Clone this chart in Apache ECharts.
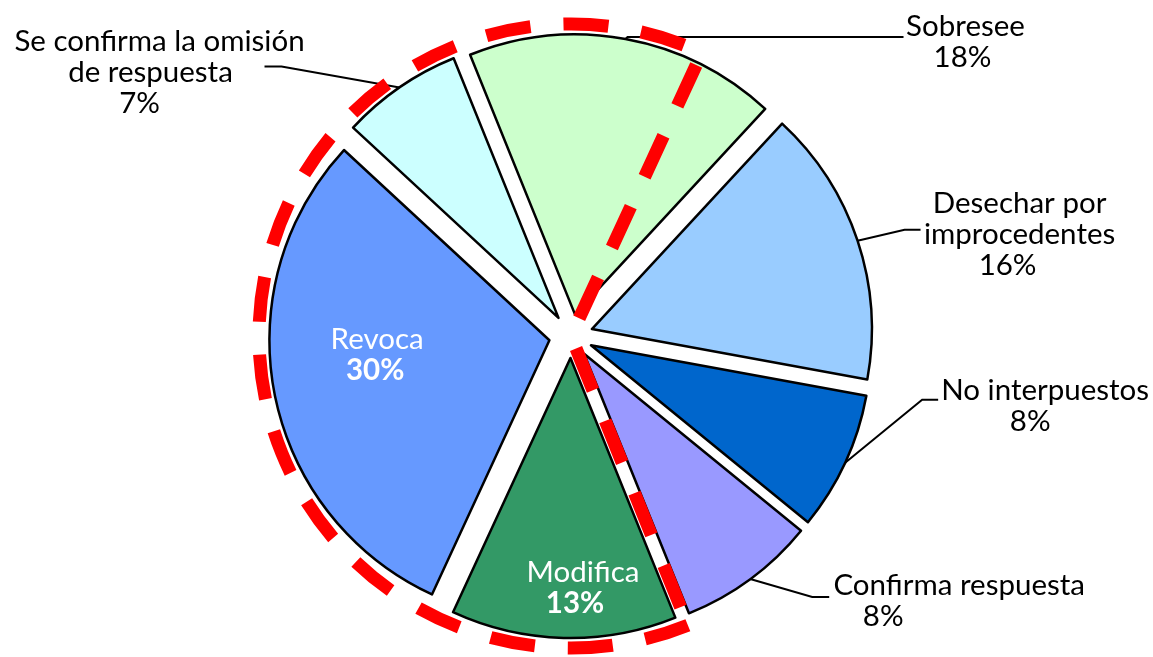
<!DOCTYPE html>
<html>
<head>
<meta charset="utf-8">
<script src="https://cdn.jsdelivr.net/npm/echarts@6/dist/echarts.min.js"></script>
<style>
  html, body { margin: 0; padding: 0; background: #fff; }
  #main { width: 1153px; height: 657px; }
</style>
</head>
<body>
<div id="main"></div>
<script>
// slices, clockwise from the top
var categories = ['Sobresee', 'Desechar por\nimprocedentes', 'No interpuestos', 'Confirma respuesta', 'Modifica', 'Revoca', 'Se confirma la omisión\nde respuesta'];
var values = [18, 16, 8, 8, 13, 30, 7];
// red dashed group outline: share of the circle it covers (from "Modifica" on) and the rest
var groupShare = [63, 37];

var colors = ['#CCFFCC', '#99CCFF', '#0066CC', '#9999FF', '#339966', '#6699FF', '#CCFFFF'];
var FONT = 'Lato';
var FONT_SIZE = 29.5;
var LINE_H = 31;
var CX = 571, CY = 336, R = 280, EXPLODE = 22;
var START = 112;

// label placement tweaks (leader line elbow, stub, text centre offset, line shifts)
var labelCfg = [
  { elbow: [2, -2], stub: 276, text: [62, 5], shift: [0, 3] },
  { elbow: [47, -11], stub: 16, text: [99, 5], shift: [0, 0, 12] },
  { elbow: [77, -63], stub: 16, text: [107, 6], shift: [0, 15] },
  { elbow: [62, 18], stub: 17, text: [130, 4], shift: [0, 76] },
  { inside: true, text: [16, 87], shift: [0, 8] },
  { inside: true, text: [-32, -13], shift: [0, 2] },
  { elbow: [-118, -21], stub: -17, text: [-105, 6], shift: [0, 9, 20] }
];

var chart = echarts.init(document.getElementById('main'));

var total = values.reduce(function (a, b) { return a + b; }, 0);

function richFor(i) {
  var c = labelCfg[i];
  var col = c.inside ? '#fff' : '#000';
  var rich = {};
  c.shift.forEach(function (s, k) {
    var bold = c.inside && k === c.shift.length - 1;
    rich['l' + k] = {
      color: col, fontFamily: FONT, fontSize: FONT_SIZE, lineHeight: LINE_H, align: 'center',
      fontWeight: bold ? 'bold' : 'normal',
      padding: s >= 0 ? [0, 2 * s, 0, 0] : [0, 0, 0, -2 * s]
    };
  });
  return rich;
}

function labelText(p) {
  var lines = p.name.split('\n').concat([Math.round(p.percent) + '%']);
  return lines.map(function (t, k) { return '{l' + k + '|' + t + '}'; }).join('\n');
}

function makeLayout(i) {
  var c = labelCfg[i];
  return function (params) {
    if (params.dataIndex !== i) return {};
    var r = params.labelRect;
    if (c.inside) {
      return { x: r.x + r.width / 2 + c.text[0], y: r.y + r.height / 2 + c.text[1], align: 'center', verticalAlign: 'middle' };
    }
    var p0 = params.labelLinePoints[0];
    var e = [p0[0] + c.elbow[0], p0[1] + c.elbow[1]];
    var end = [e[0] + c.stub, e[1]];
    return {
      x: end[0] + c.text[0], y: end[1] + c.text[1],
      align: 'center', verticalAlign: 'middle',
      labelLinePoints: [p0, e, end]
    };
  };
}

// one pie per slice so each can be pulled out along its own mid angle
var series = categories.map(function (name, i) {
  var before = values.slice(0, i).reduce(function (a, b) { return a + b; }, 0);
  var mid = (START - 360 * (before + values[i] / 2) / total) * Math.PI / 180;
  var c = labelCfg[i];
  return {
    type: 'pie',
    silent: true,
    center: [CX + EXPLODE * Math.cos(mid), CY - EXPLODE * Math.sin(mid)],
    radius: [0, R],
    startAngle: START,
    clockwise: true,
    avoidLabelOverlap: false,
    emphasis: { disabled: true },
    labelLayout: makeLayout(i),
    data: categories.map(function (n, j) {
      if (j !== i) {
        return { name: n, value: values[j], itemStyle: { color: 'transparent', borderWidth: 0 }, label: { show: false }, labelLine: { show: false } };
      }
      return {
        name: n,
        value: values[j],
        itemStyle: { color: colors[j], borderColor: '#000', borderWidth: 2.5 },
        label: { show: true, position: c.inside ? 'inside' : 'outside', formatter: labelText, rich: richFor(j) },
        labelLine: { show: !c.inside, length: 20, length2: 20, lineStyle: { color: '#000', width: 2 } }
      };
    })
  };
});

series.push({
  type: 'pie',
  silent: true,
  center: [CX, CY],
  radius: [0, 312],
  startAngle: START - 360 * (values[0] + values[1] + values[2] + values[3]) / total,
  clockwise: true,
  emphasis: { disabled: true },
  label: { show: false },
  labelLine: { show: false },
  data: [
    { value: groupShare[0], itemStyle: { color: 'transparent', borderColor: '#FF0000', borderWidth: 13, borderType: [45, 33] } },
    { value: groupShare[1], itemStyle: { color: 'transparent', borderWidth: 0 } }
  ]
});

chart.setOption({
  animation: false,
  backgroundColor: '#fff',
  series: series
});
</script>
</body>
</html>
